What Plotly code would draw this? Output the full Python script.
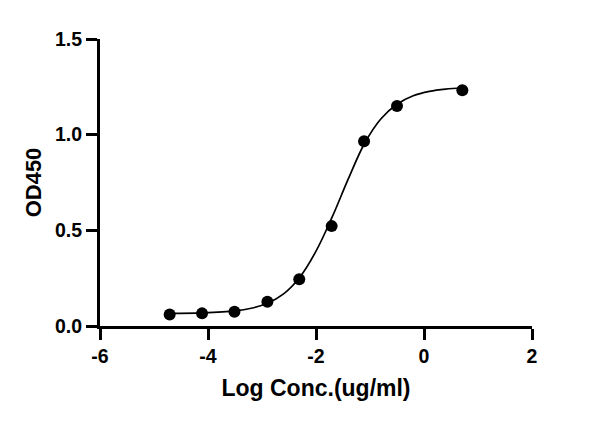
import plotly.graph_objects as go

# Measured points (log concentration, OD450)
log_conc = [-4.71, -4.11, -3.51, -2.90, -2.31, -1.71, -1.11, -0.50, 0.71]
od450 = [0.060, 0.066, 0.075, 0.127, 0.244, 0.522, 0.966, 1.150, 1.232]

# Fitted curve
curve_x = [-4.71, -4.1, -3.5, -3.2, -2.9, -2.6, -2.3, -2.0, -1.7, -1.4,
           -1.1, -0.8, -0.5, -0.2, 0.1, 0.4, 0.71]
curve_y = [0.066, 0.069, 0.079, 0.093, 0.119, 0.168, 0.255, 0.391, 0.570, 0.770,
           0.955, 1.082, 1.159, 1.203, 1.226, 1.238, 1.244]

x_ticks = [-6, -4, -2, 0, 2]
x_tick_labels = ["-6", "-4", "-2", "0", "2"]
y_ticks = [0.0, 0.5, 1.0, 1.5]
y_tick_labels = ["0.0", "0.5", "1.0", "1.5"]

FONT = "Liberation Sans, Arial, sans-serif"

fig = go.Figure()
fig.add_trace(go.Scatter(x=curve_x, y=curve_y, mode="lines",
                         line=dict(color="black", width=1.7, shape="spline"),
                         hoverinfo="skip", showlegend=False))
fig.add_trace(go.Scatter(x=log_conc, y=od450, mode="markers",
                         marker=dict(color="black", size=12),
                         showlegend=False))

axis_common = dict(
    showline=True, linecolor="black", linewidth=3,
    ticks="outside", ticklen=11, tickwidth=3, tickcolor="black",
    showgrid=False, zeroline=False,
    tickfont=dict(family=FONT, size=19.5, color="black", weight="bold"),
)

fig.update_xaxes(range=[-6, 2], tickvals=x_ticks, ticktext=x_tick_labels,
                 title=dict(text="Log Conc.(ug/ml)", standoff=14,
                            font=dict(family=FONT, size=23, color="black", weight="bold")),
                 **axis_common)
fig.update_yaxes(range=[0, 1.5], tickvals=y_ticks, ticktext=y_tick_labels,
                 title=dict(text="OD450", standoff=8,
                            font=dict(family=FONT, size=22, color="black", weight="bold")),
                 **axis_common)

fig.update_layout(
    width=600, height=423,
    margin=dict(l=92, r=76, t=31, b=105),
    plot_bgcolor="white", paper_bgcolor="white",
)

fig.write_html("out.html")
